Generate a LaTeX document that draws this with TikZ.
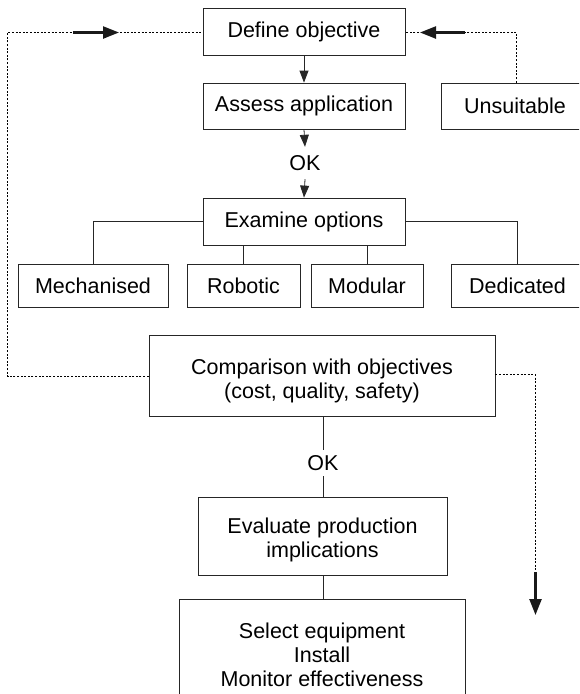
\documentclass[tikz,border=0pt]{standalone}
\usepackage{fontspec}
\setmainfont{Liberation Sans}
\usetikzlibrary{arrows.meta}
\begin{document}
\begin{tikzpicture}[x=1pt,y=-1pt,
  box/.style={draw=black!85, line width=0.8pt, inner sep=0pt, align=center, font=\fontsize{21.5}{24}\selectfont},
  lbl/.style={inner sep=0pt, align=center, font=\fontsize{21.5}{24}\selectfont},
  conn/.style={draw=black!85, line width=0.8pt},
  arr/.style={conn, -{Triangle[length=12pt,width=9pt]}},
  dots/.style={draw=black, line width=1pt, dash pattern=on 2pt off 1.6pt},
  bigarr/.style={draw=black!90, line width=2.4pt, -{Triangle[length=16pt,width=12pt]}}
]
\useasboundingbox (0,0) rectangle (579,694);
\clip (0,0) rectangle (579,694);

% boxes
\node[box, minimum width=202pt, minimum height=47pt] (def) at (304,31.5) {Define objective};
\node[box, minimum width=202pt, minimum height=46pt] (ass) at (304,106) {Assess application};
\node[box, minimum width=148pt, minimum height=46pt] (uns) at (515,106) {Unsuitable};
\node[lbl, minimum height=32pt] (ok1) at (305,163) {OK};
\node[box, minimum width=202pt, minimum height=47pt] (exa) at (304,221.5) {Examine options};
\node[box, minimum width=150pt, minimum height=43pt] (mec) at (93,285.5) {Mechanised};
\node[box, minimum width=113pt, minimum height=43pt] (rob) at (243.5,285.5) {Robotic};
\node[box, minimum width=112pt, minimum height=43pt] (mod) at (367,285.5) {Modular};
\node[box, minimum width=133pt, minimum height=43pt] (ded) at (517.5,285.5) {Dedicated};
\node[box, minimum width=346pt, minimum height=81pt,
  label={[lbl, yshift=-5pt]center:Comparison with objectives\\(cost, quality, safety)}] (com) at (322,375.5) {};
\node[lbl, minimum height=26pt] (ok2) at (323,463) {OK};
\node[box, minimum width=249pt, minimum height=78pt,
  label={[lbl, yshift=-4pt]center:Evaluate production\\implications}] (eva) at (322.5,536) {};
\node[box, minimum width=286pt, minimum height=112pt] (sel) at (322,655) {Select equipment\\Install\\Monitor effectiveness};

% main flow
\draw[arr] (def.south) -- (ass.north);
\draw[arr] (ass.south) -- (ok1.north);
\draw[arr] (ok1.south) -- (exa.north);
\draw[conn] (exa.west) -| (mec.north);
\draw[conn] (exa.east) -| (ded.north);
\draw[conn] (exa.south -| rob.north) -- (rob.north);
\draw[conn] (exa.south -| mod.north) -- (mod.north);
\draw[conn] (com.south -| ok2.north) -- (ok2.north);
\draw[conn] (ok2.south) -- (eva.north -| ok2.south);
\draw[conn] (eva.south -| ok2.south) -- (sel.north -| ok2.south);

% feedback loops
\coordinate (lc) at (7.5,376.5);
\coordinate (lt) at (7.5,32.5);
\draw[dots] (com.west |- lc) -- (lc) -- (lt) -- (def.west |- lt);
\coordinate (la1) at (73,32.5);
\coordinate (la2) at (119,32.5);
\draw[bigarr] (la1) -- (la2);

\coordinate (rt) at (516.5,32.5);
\draw[dots] (uns.north -| rt) -- (rt) -- (def.east |- rt);
\coordinate (ra1) at (465,32.5);
\coordinate (ra2) at (420,32.5);
\draw[bigarr] (ra1) -- (ra2);

\coordinate (rc) at (535.5,374.5);
\coordinate (rd) at (535.5,572);
\coordinate (re) at (535.5,615);
\draw[dots] (com.east |- rc) -- (rc) -- (rd);
\draw[bigarr] (rd) -- (re);
\end{tikzpicture}
\end{document}
